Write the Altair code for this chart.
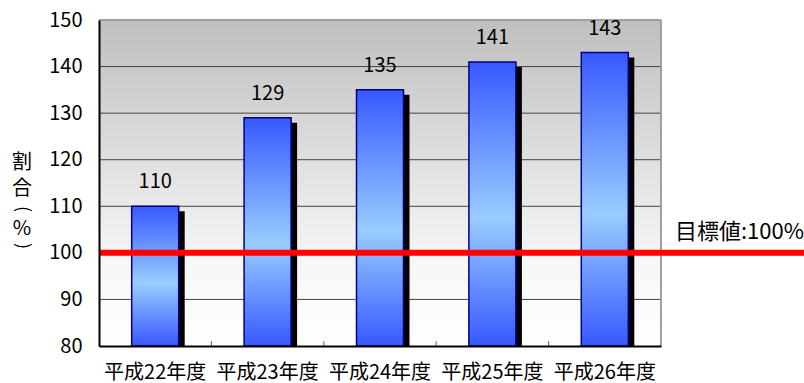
import altair as alt
import pandas as pd

years = ["平成22年度", "平成23年度", "平成24年度", "平成25年度", "平成26年度"]
values = [110, 129, 135, 141, 143]
y_ticks = [80, 90, 100, 110, 120, 130, 140, 150]
grid_values = [90, 100, 110, 120, 130, 140]
target = 100
target_label = "目標値:100%"
title_chars = ["割", "合", "(", "%", ")"]
title_angles = [0, 0, 90, 0, 90]
title_sizes = [20, 20, 18, 20, 18]

FONT = "Noto Sans CJK JP"
W, H = 562, 326

df = pd.DataFrame({"year": years, "value": values})
grid_df = pd.DataFrame({"g": grid_values})
one = pd.DataFrame({"a": [0]})

xscale = alt.Scale(domain=years, paddingInner=0, paddingOuter=0)
yscale = alt.Scale(domain=[80, 150], zero=False, nice=False)

bg_grad = alt.LinearGradient(
    gradient="linear", x1=0, x2=0, y1=0, y2=1,
    stops=[alt.GradientStop(offset=0, color="#bfbfbf"),
           alt.GradientStop(offset=0.75, color="#f7f7f7"),
           alt.GradientStop(offset=1, color="#ffffff")])
bar_grad = alt.LinearGradient(
    gradient="linear", x1=0, x2=0, y1=0, y2=1,
    stops=[alt.GradientStop(offset=0, color="#3858ff"),
           alt.GradientStop(offset=0.55, color="#99ccff"),
           alt.GradientStop(offset=1, color="#3858ff")])

background = alt.Chart(one).mark_rect(fill=bg_grad).encode(
    x=alt.value(0), x2=alt.value(W), y=alt.value(0), y2=alt.value(H))

grid = alt.Chart(grid_df).mark_rule(color="#444444", strokeWidth=1).encode(
    y=alt.Y("g:Q", scale=yscale), x=alt.value(0), x2=alt.value(W))

border_top = alt.Chart(one).mark_rule(color="#a0a0a0", strokeWidth=2).encode(
    x=alt.value(0), x2=alt.value(W), y=alt.value(0))
border_right = alt.Chart(one).mark_rule(color="#a0a0a0", strokeWidth=2).encode(
    x=alt.value(W), y=alt.value(0), y2=alt.value(H))

xax = alt.Axis(title=None, labelAngle=0, ticks=False, labelFont=FONT, labelFontSize=20,
               labelColor="#000000", labelPadding=16, domainColor="#000000",
               domainWidth=2, zindex=1)
yax = alt.Axis(title=None, values=y_ticks, ticks=False, grid=False, labelFont=FONT,
               labelFontSize=20, labelColor="#000000", labelPadding=17,
               domainColor="#000000", domainWidth=2, zindex=1)

shadow = alt.Chart(df).mark_bar(color="#000000", width=47, xOffset=6, yOffset=5, clip=True).encode(
    x=alt.X("year:N", scale=xscale, axis=xax, sort=years),
    y=alt.Y("value:Q", scale=yscale, axis=yax),
    y2=alt.datum(80))

bars = alt.Chart(df).mark_bar(fill=bar_grad, stroke="#000080", strokeWidth=1.5, width=47).encode(
    x=alt.X("year:N", scale=xscale, sort=years),
    y=alt.Y("value:Q", scale=yscale),
    y2=alt.datum(80))

labels = alt.Chart(df).mark_text(font=FONT, fontSize=20, dy=-18, baseline="alphabetic",
                                 color="#000000").encode(
    x=alt.X("year:N", scale=xscale, sort=years),
    y=alt.Y("value:Q", scale=yscale),
    text=alt.Text("value:Q"))

xticks = alt.Chart(df).transform_filter(
    alt.datum.year != years[0]).mark_rule(color="#666666", strokeWidth=1).encode(
    x=alt.X("year:N", scale=xscale, sort=years, bandPosition=0),
    y=alt.value(H - 5), y2=alt.value(H))

target_line = alt.Chart(one).mark_rule(color="#ff0000", strokeWidth=6).encode(
    y=alt.datum(target), x=alt.value(0), x2=alt.value(W + 143))

target_text = alt.Chart(one).mark_text(font=FONT, fontSize=22, align="left",
                                       baseline="alphabetic", dy=-14, color="#000000").encode(
    y=alt.datum(target), x=alt.value(W + 14), text=alt.value(target_label))

title_pos = [143, 169, 189, 209, 226]
title_layers = []
for ch, py, ang, fs in zip(title_chars, title_pos, title_angles, title_sizes):
    title_layers.append(
        alt.Chart(one).mark_text(font=FONT, fontSize=fs, baseline="middle", align="center",
                                 angle=ang, color="#000000").encode(
            x=alt.value(-77), y=alt.value(py), text=alt.value(ch)))

chart = alt.layer(background, grid, border_top, border_right, shadow, bars, labels,
                  xticks, target_line, target_text, *title_layers).properties(
    width=W, height=H,
    autosize=alt.AutoSizeParams(type="none"),
    padding={"left": 99, "top": 20, "right": 143, "bottom": 37},
).configure_view(stroke=None).configure(background="#ffffff")

chart.save("out.html", embed_options={"renderer": "svg", "actions": False})
